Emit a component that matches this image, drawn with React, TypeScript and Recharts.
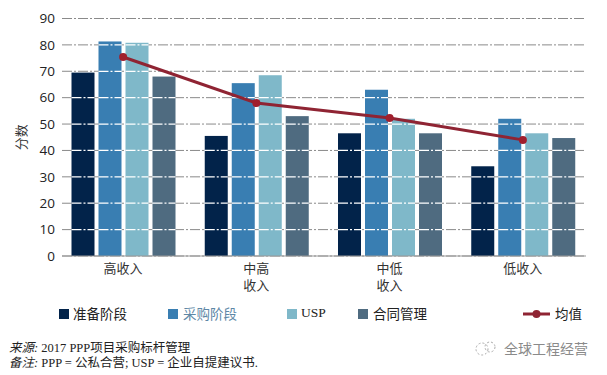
import React from "react";
import { ComposedChart, Bar, Line, XAxis, YAxis, CartesianGrid, Legend, Label } from "recharts";

const categories = ["高收入", "中高\n收入", "中低\n收入", "低收入"];
const prep = [69.5, 45.5, 46.5, 34];
const proc = [81.3, 65.5, 63, 52];
const usp = [80.8, 68.5, 52, 46.5];
const contract = [68, 53, 46.5, 44.7];
const mean = [75.4, 58, 52.3, 44];
const yTicks = [0, 10, 20, 30, 40, 50, 60, 70, 80, 90];
const sourceLine = "2017 PPP项目采购标杆管理";
const noteLine = "PPP = 公私合营; USP = 企业自提建议书.";

const data = categories.map((c, i) => ({
  c,
  prep: prep[i],
  proc: proc[i],
  usp: usp[i],
  contract: contract[i],
  mean: mean[i],
}));

const SERIF = "'Liberation Serif', 'Noto Sans CJK SC', serif";
const SANS = "'Open Sans', 'Noto Sans CJK SC', sans-serif";
const CJK = "'Noto Sans CJK SC', sans-serif";
const DASH = "10 2 2 2";

const GridBar = (props: any) => {
  const { x, y, width, height, fill, value } = props;
  const v = Array.isArray(value) ? value[1] : value;
  const inside = yTicks.filter((t) => t > 0 && t < v);
  return (
    <g>
      <rect x={x} y={y} width={width} height={height} fill={fill} />
      {inside.map((t) => {
        const ty = y + height - (height * t) / v;
        return <line key={t} x1={x} x2={x + width} y1={ty} y2={ty} stroke="#ffffff" strokeWidth={1.2} strokeDasharray={DASH} />;
      })}
    </g>
  );
};

const CatTick = (props: any) => {
  const { x, y, payload } = props;
  const lines = String(payload.value).split("\n");
  return (
    <text x={x} y={y + 9} textAnchor="middle" fontSize={13} fill="#333" fontFamily={CJK}>
      {lines.map((l: string, i: number) => (
        <tspan key={i} x={x} dy={i === 0 ? 0 : 17}>
          {l}
        </tspan>
      ))}
    </text>
  );
};

const legendPlaces: Record<string, { sw: number; tx: number; color: string; font: string }> = {
  准备阶段: { sw: 59, tx: 73, color: "#222", font: CJK },
  采购阶段: { sw: 168, tx: 183, color: "#5d87a6", font: CJK },
  USP: { sw: 287, tx: 301, color: "#222", font: SERIF },
  合同管理: { sw: 358, tx: 373, color: "#222", font: CJK },
  均值: { sw: 523, tx: 555, color: "#222", font: CJK },
};

const LegendContent = (props: any) => {
  const items = props.payload || [];
  return (
    <div style={{ position: "absolute", left: 0, top: 0, width: 607, height: 30 }}>
      {items.map((it: any) => {
        const p = legendPlaces[it.value];
        if (!p) return null;
        const isLine = it.value === "均值";
        return (
          <React.Fragment key={it.value}>
            {isLine ? (
              <svg style={{ position: "absolute", left: p.sw, top: 6 }} width={27} height={12}>
                <line x1={0} x2={27} y1={6} y2={6} stroke={it.color} strokeWidth={3} />
                <circle cx={13.5} cy={6} r={4} fill={it.color} />
              </svg>
            ) : (
              <div style={{ position: "absolute", left: p.sw, top: 7, width: 10, height: 10, background: it.color }} />
            )}
            <span style={{ position: "absolute", left: p.tx, top: 1, fontSize: 13.5, lineHeight: "20px", color: p.color, fontFamily: p.font, whiteSpace: "nowrap" }}>
              {it.value}
            </span>
          </React.Fragment>
        );
      })}
    </div>
  );
};

export default function App() {
  return (
    <div style={{ position: "absolute", left: 0, top: 0, width: 607, height: 375, background: "#fff", overflow: "hidden" }}>
      <ComposedChart
        width={607}
        height={375}
        data={data}
        margin={{ top: 18.5, right: 21, bottom: 0, left: 0 }}
        barSize={23}
        barGap={4}
      >
        <CartesianGrid vertical={false} stroke="#8a8a8a" strokeWidth={1} strokeDasharray={DASH} />
        <XAxis
          dataKey="c"
          axisLine={{ stroke: "#999" }}
          tickLine={false}
          interval={0}
          height={119}
          padding={{ left: -5.5, right: -3.5 }}
          tick={<CatTick />}
        />
        <YAxis
          width={62}
          domain={[0, 90]}
          ticks={yTicks}
          axisLine={false}
          tickLine={false}
          tickMargin={1}
          tick={{ fontSize: 13.5, fill: "#222", fontFamily: SANS }}
        >
          <Label value="分数" angle={-90} position="insideLeft" offset={21} style={{ fontSize: 13, fill: "#333", fontFamily: CJK, textAnchor: "middle" }} />
        </YAxis>
        <Legend verticalAlign="middle" content={<LegendContent />} wrapperStyle={{ left: 0, top: 302, width: 607, height: 30 }} />
        <Bar dataKey="prep" name="准备阶段" fill="#02234a" isAnimationActive={false} shape={<GridBar />} />
        <Bar dataKey="proc" name="采购阶段" fill="#397eb2" isAnimationActive={false} shape={<GridBar />} />
        <Bar dataKey="usp" name="USP" fill="#7fb8c9" isAnimationActive={false} shape={<GridBar />} />
        <Bar dataKey="contract" name="合同管理" fill="#4f6b80" isAnimationActive={false} shape={<GridBar />} />
        <Line
          dataKey="mean"
          name="均值"
          stroke="#8f2433"
          strokeWidth={3}
          isAnimationActive={false}
          dot={{ r: 4, fill: "#a01f2d", stroke: "#a01f2d", strokeWidth: 0 }}
        />
      </ComposedChart>
      <div style={{ position: "absolute", left: 9, top: 341, fontSize: 12.5, lineHeight: "15px", color: "#222", fontFamily: SERIF, whiteSpace: "nowrap" }}>
        <div>
          <i>来源: </i>
          {sourceLine}
        </div>
        <div>
          <i>备注: </i>
          {noteLine}
        </div>
      </div>
      <svg style={{ position: "absolute", left: 473, top: 339 }} width={26} height={20}>
        <circle cx={9} cy={10} r={6} fill="none" stroke="#aaa" strokeWidth={1} strokeDasharray="2 2" />
        <circle cx={17} cy={8} r={5} fill="none" stroke="#aaa" strokeWidth={1} strokeDasharray="2 2" />
      </svg>
      <div style={{ position: "absolute", left: 504, top: 338, fontSize: 14, lineHeight: "20px", color: "#8a8a8a", fontFamily: CJK, whiteSpace: "nowrap" }}>
        全球工程经营
      </div>
    </div>
  );
}
